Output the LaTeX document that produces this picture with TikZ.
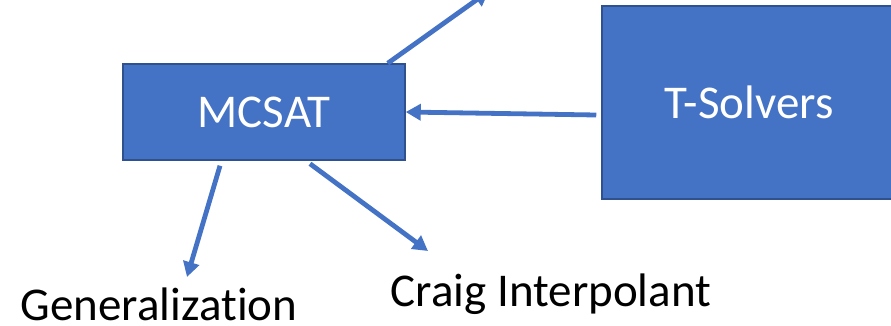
\documentclass[tikz,border=0pt]{standalone}
\usepackage{fontspec}
\setmainfont{Carlito}[Ligatures=NoCommon]
\usetikzlibrary{arrows.meta,calc}
\definecolor{boxfill}{HTML}{4472C4}
\definecolor{boxedge}{HTML}{2F528F}
\begin{document}
\begin{tikzpicture}[x=1pt,y=-1pt,
  block/.style={rectangle,draw=boxedge,line width=1.5pt,fill=boxfill,
    text=white,font=\fontsize{47}{52}\selectfont,inner sep=0pt},
  label/.style={font=\fontsize{47}{52}\selectfont,text=black,inner sep=0pt,anchor=base},
  link/.style={draw=boxfill,line width=4.8pt,
    -{Triangle[length=15pt,width=16pt]}}]
  \useasboundingbox (0,0) rectangle (891,326);
  \clip (0,0) rectangle (891,326);

  % solver boxes
  \node[block,minimum width=282pt,minimum height=96pt] (mcsat) at (264,112) {MCSAT};
  \node[block,minimum width=294pt,minimum height=193pt] (tsol) at (749,102.5) {T-Solvers};

  % output labels
  \node[label] (gen) at (159,320) {Generalization};
  \node[label] (craig) at (551,306) {Craig Interpolant};

  % free ends of the connectors
  \coordinate (up) at (489,-9);
  \coordinate (genTip) at (187,277);
  \coordinate (craigTip) at (428,251);

  % connectors
  \draw[link] ($(mcsat.north east)+(-18,0)$) -- (up);
  \draw[link] ($(tsol.west)+(-5,12.5)$) -- (mcsat.east);
  \draw[link] ($(mcsat.south)+(-44,5)$) -- (genTip);
  \draw[link] ($(mcsat.south)+(46,3)$) -- (craigTip);
\end{tikzpicture}
\end{document}
